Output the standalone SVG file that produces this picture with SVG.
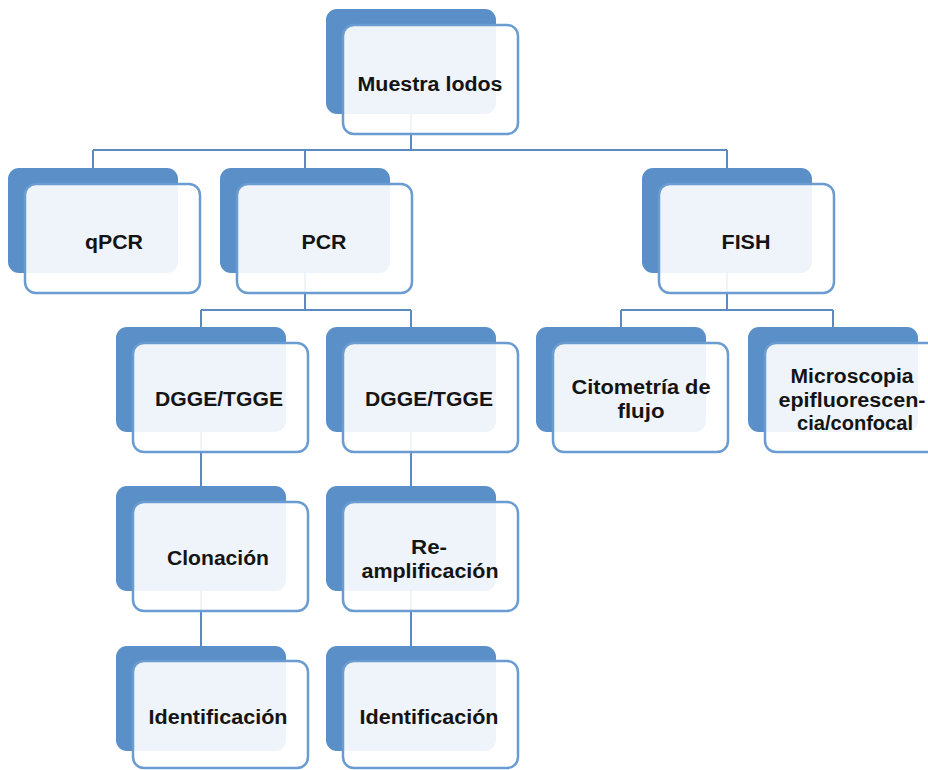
<svg xmlns="http://www.w3.org/2000/svg" width="928" height="770" viewBox="0 0 928 770">
  <defs>
    <style>
      .back { fill: #5B8FC7; }
      .front { fill: #FFFFFF; fill-opacity: 0.9; stroke: #6A9CD2; stroke-width: 2.5; }
      .link { fill: none; stroke: #5B8AC3; stroke-width: 2; }
      .label { font-family: "Liberation Sans", Arial, sans-serif; font-weight: bold; font-size: 20px; fill: #141414; text-anchor: middle; }
    </style>
  </defs>
  <rect width="928" height="770" fill="#FFFFFF"/>

  <!-- connectors: attach to the centres of the blue back panels -->
  <g id="connectors" class="link">
    <path d="M411 114 V150 M93 150 H727 M93 150 V168 M305 150 V168 M727 150 V168"/>
    <path d="M305 273 V310 M201 310 H411 M201 310 V327 M411 310 V327"/>
    <path d="M727 273 V310 M621 310 H833 M621 310 V327 M833 310 V327"/>
    <path d="M201 432 V486 M201 591 V646"/>
    <path d="M411 432 V486 M411 591 V646"/>
  </g>

  <g id="muestra-lodos">
    <rect class="back" x="326" y="9" width="170" height="105" rx="11"/>
    <rect class="front" x="343" y="25" width="175" height="109" rx="11"/>
    <text class="label" x="430" y="91" textLength="145" lengthAdjust="spacingAndGlyphs">Muestra lodos</text>
  </g>

  <g id="qpcr">
    <rect class="back" x="8" y="168" width="170" height="105" rx="11"/>
    <rect class="front" x="25" y="184" width="175" height="109" rx="11"/>
    <text class="label" x="114" y="249" textLength="58" lengthAdjust="spacingAndGlyphs">qPCR</text>
  </g>

  <g id="pcr">
    <rect class="back" x="220" y="168" width="170" height="105" rx="11"/>
    <rect class="front" x="237" y="184" width="175" height="109" rx="11"/>
    <text class="label" x="324" y="249" textLength="45" lengthAdjust="spacingAndGlyphs">PCR</text>
  </g>

  <g id="fish">
    <rect class="back" x="642" y="168" width="170" height="105" rx="11"/>
    <rect class="front" x="659" y="184" width="175" height="109" rx="11"/>
    <text class="label" x="746" y="249" textLength="49" lengthAdjust="spacingAndGlyphs">FISH</text>
  </g>

  <g id="dgge-tgge-1">
    <rect class="back" x="116" y="327" width="170" height="105" rx="11"/>
    <rect class="front" x="133" y="343" width="175" height="109" rx="11"/>
    <text class="label" x="219" y="406" textLength="128" lengthAdjust="spacingAndGlyphs">DGGE/TGGE</text>
  </g>

  <g id="dgge-tgge-2">
    <rect class="back" x="326" y="327" width="170" height="105" rx="11"/>
    <rect class="front" x="343" y="343" width="175" height="109" rx="11"/>
    <text class="label" x="429" y="406" textLength="128" lengthAdjust="spacingAndGlyphs">DGGE/TGGE</text>
  </g>

  <g id="citometria">
    <rect class="back" x="536" y="327" width="170" height="105" rx="11"/>
    <rect class="front" x="553" y="343" width="175" height="109" rx="11"/>
    <text class="label" x="641" y="394" textLength="139" lengthAdjust="spacingAndGlyphs">Citometría de</text>
    <text class="label" x="641" y="418" textLength="47" lengthAdjust="spacingAndGlyphs">flujo</text>
  </g>

  <g id="microscopia">
    <rect class="back" x="748" y="327" width="170" height="105" rx="11"/>
    <rect class="front" x="765" y="343" width="175" height="109" rx="11"/>
    <text class="label" x="852" y="383" textLength="123" lengthAdjust="spacingAndGlyphs">Microscopia</text>
    <text class="label" x="852" y="407" textLength="147" lengthAdjust="spacingAndGlyphs">epifluorescen-</text>
    <text class="label" x="855" y="430" textLength="116" lengthAdjust="spacingAndGlyphs">cia/confocal</text>
  </g>

  <g id="clonacion">
    <rect class="back" x="116" y="486" width="170" height="105" rx="11"/>
    <rect class="front" x="133" y="502" width="175" height="109" rx="11"/>
    <text class="label" x="218" y="565" textLength="102" lengthAdjust="spacingAndGlyphs">Clonación</text>
  </g>

  <g id="re-amplificacion">
    <rect class="back" x="326" y="486" width="170" height="105" rx="11"/>
    <rect class="front" x="343" y="502" width="175" height="109" rx="11"/>
    <text class="label" x="429" y="554" textLength="36" lengthAdjust="spacingAndGlyphs">Re-</text>
    <text class="label" x="430" y="578" textLength="137" lengthAdjust="spacingAndGlyphs">amplificación</text>
  </g>

  <g id="identificacion-1">
    <rect class="back" x="116" y="646" width="170" height="105" rx="11"/>
    <rect class="front" x="133" y="661" width="175" height="107" rx="11"/>
    <text class="label" x="218" y="724" textLength="139" lengthAdjust="spacingAndGlyphs">Identificación</text>
  </g>

  <g id="identificacion-2">
    <rect class="back" x="326" y="646" width="170" height="105" rx="11"/>
    <rect class="front" x="343" y="661" width="175" height="107" rx="11"/>
    <text class="label" x="429" y="724" textLength="139" lengthAdjust="spacingAndGlyphs">Identificación</text>
  </g>
</svg>
